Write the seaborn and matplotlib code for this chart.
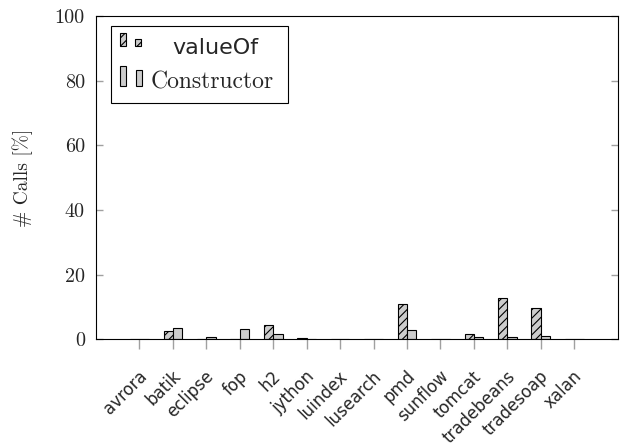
import matplotlib
matplotlib.use("Agg")
import matplotlib.pyplot as plt
import matplotlib.transforms as mtransforms
from matplotlib.patches import Rectangle
from matplotlib.offsetbox import DrawingArea, AnchoredOffsetbox
from matplotlib.text import Text
import seaborn as sns
import pandas as pd

benchmarks = ["avrora", "batik", "eclipse", "fop", "h2", "jython", "luindex",
              "lusearch", "pmd", "sunflow", "tomcat", "tradebeans", "tradesoap", "xalan"]
value_of = [0.0, 2.7, 0.0, 0.0, 4.5, 0.3, 0.0, 0.0, 10.8, 0.0, 1.5, 12.7, 9.6, 0.0]
constructor = [0.1, 3.5, 0.6, 3.2, 1.6, 0.0, 0.0, 0.0, 3.0, 0.0, 0.8, 0.6, 0.9, 0.1]
series = ["valueOf", "Constructor"]
yticks = [0, 20, 40, 60, 80, 100]

df = pd.DataFrame({
    "benchmark": benchmarks * 2,
    "series": [series[0]] * len(benchmarks) + [series[1]] * len(benchmarks),
    "value": value_of + constructor,
})

sns.set_style("white")
plt.rcParams["axes.formatter.use_mathtext"] = True
plt.rcParams["hatch.linewidth"] = 0.8
serif = ["cmr10", "DejaVu Serif"]
HATCH = "////"
FILL = "#cccccc"
TICKC = "#a0a0a0"

W, H = 621, 445
fig = plt.figure(figsize=(W / 100, H / 100), dpi=100)
ax_l, ax_r, ax_t, ax_b = 96, 618, 16, 339.3
ax = fig.add_axes([ax_l / W, 1 - ax_b / H, (ax_r - ax_l) / W, (ax_b - ax_t) / H])

sns.barplot(data=df, x="benchmark", y="value", hue="series", hue_order=series,
            order=benchmarks, palette=[FILL, FILL], width=0.56, dodge=True,
            edgecolor="black", linewidth=0.8, ax=ax, legend=False, errorbar=None)

n = len(benchmarks)
for i, p in enumerate(ax.patches[:2 * n]):
    if i < n:
        p.set_hatch(HATCH)

ax.set_xlim(-1.3, n - 1 + 1.31)
ax.set_ylim(0, 100)
ax.set_yticks(yticks)
ax.set_yticklabels([str(t) for t in yticks], fontfamily=serif, fontsize=14.5)
ax.set_xlabel("")
ax.set_ylabel("# Calls [%]", fontfamily=serif, fontsize=14)
ax.yaxis.set_label_coords((33 - ax_l) / (ax_r - ax_l), 0.5)
ax.set_xticks(range(n))
ax.set_xticklabels(benchmarks, rotation=45, ha="right", va="center",
                   rotation_mode="anchor", fontsize=12, fontfamily="DejaVu Sans")

for s in ax.spines.values():
    s.set_color("black")
    s.set_linewidth(0.8)

ax.tick_params(axis="y", direction="in", left=True, right=True, length=5,
               color=TICKC, width=1, pad=8)
ax.tick_params(axis="x", direction="out", bottom=True, length=7.2,
               color=TICKC, width=1, pad=17.5)

offset = mtransforms.ScaledTranslation(0.05, 0, fig.dpi_scale_trans)
for lab in ax.get_xticklabels():
    lab.set_transform(lab.get_transform() + offset)

# legend (pgfplots style: two small bars per entry, centred labels)
k = 0.72  # px -> pt at 100 dpi
box_w, box_h = 176.7, 76.7
da = DrawingArea(box_w * k, box_h * k, clip=False)
handle_rects = [
    (8.3, 56.7, 6.0, 13.5, HATCH), (23.8, 56.7, 6.0, 7.5, HATCH),
    (8.5, 17.0, 6.0, 20.0, None), (24.5, 17.0, 6.0, 15.7, None),
]
for x0, y0, w, h, ht in handle_rects:
    da.add_artist(Rectangle((x0 * k, y0 * k), w * k, h * k, facecolor=FILL,
                            edgecolor="black", linewidth=0.8, hatch=ht))
da.add_artist(Text(103.7 * k, 48.4 * k, series[0], ha="center", va="baseline",
                   fontsize=16, fontfamily="DejaVu Sans"))
da.add_artist(Text(100.5 * k, 14.4 * k, series[1], ha="center", va="baseline",
                   fontsize=17, fontfamily=serif))
leg = AnchoredOffsetbox(loc="upper left", child=da, pad=0, borderpad=0, frameon=True,
                        bbox_to_anchor=((111.3 - ax_l) / (ax_r - ax_l),
                                        (ax_b - 26) / (ax_b - ax_t)),
                        bbox_transform=ax.transAxes)
leg.patch.set_boxstyle("square", pad=0)
leg.patch.set_edgecolor("black")
leg.patch.set_linewidth(0.8)
leg.patch.set_facecolor("white")
ax.add_artist(leg)

fig.savefig("out.png", dpi=100)
